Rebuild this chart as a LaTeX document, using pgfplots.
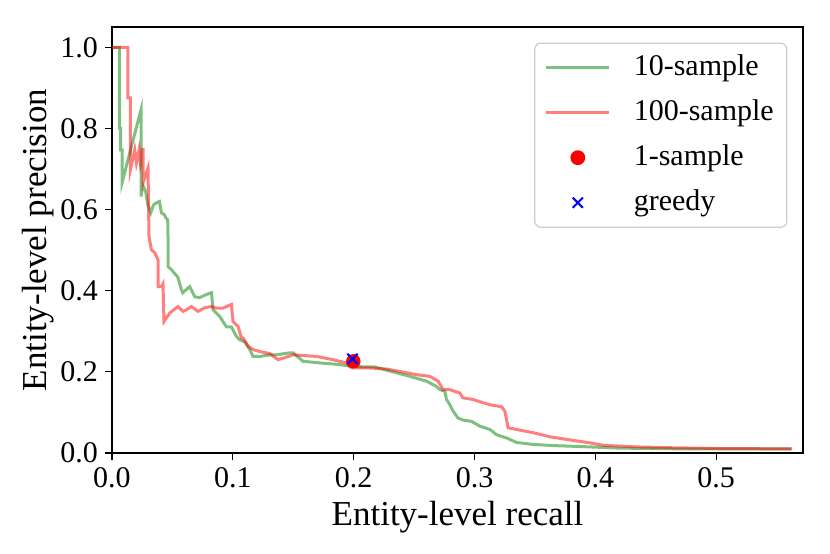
\documentclass[border=0pt]{standalone}
\usepackage{pgfplots}
\pgfplotsset{compat=1.18}
\usepackage{fontspec}
\setmainfont{Liberation Serif}
\definecolor{mplgreen}{rgb}{0,0.5,0}
\definecolor{legedge}{rgb}{0.8,0.8,0.8}
\pgfplotsset{
  lineleg/.style={legend image code/.code={\draw[##1] (0pt,0pt) -- (31.5pt,0pt);}},
  markleg/.style={legend image code/.code={\draw[##1] plot coordinates {(15.75pt,0pt)};}},
}
\begin{document}
\begin{tikzpicture}
\begin{axis}[
  width=345.5pt, height=213pt, scale only axis,
  xmin=0, xmax=0.5718, ymin=0, ymax=1.05,
  xtick={0,0.1,0.2,0.3,0.4,0.5},
  ytick={0,0.2,0.4,0.6,0.8,1.0},
  tick align=outside, major tick length=3.5pt,
  tick style={black, line width=0.6pt},
  axis line style={line width=0.6pt},
  xtick pos=bottom, ytick pos=left,
  /pgf/number format/assume math mode=true,
  /pgf/number format/.cd, fixed, fixed zerofill, precision=1, /pgfplots/.cd,
  tick label style={font=\fontsize{15}{18}\selectfont},
  label style={font=\fontsize{17.5}{21}\selectfont},
  xlabel={Entity-level recall},
  ylabel={Entity-level precision},
  ylabel style={yshift=-3.5pt},
  legend cell align=left,
  legend style={at={(1,1)}, anchor=north east, xshift=-7.8pt, yshift=-7.8pt,
    draw=legedge, line width=0.6pt, rounded corners=3pt,
    font=\fontsize{15}{18}\selectfont,
    inner xsep=5pt, inner ysep=3pt, row sep=4pt, column sep=10pt,
    nodes={inner xsep=1.5pt, inner ysep=2pt, text height=11pt, text depth=3.5pt}},
]
\addplot[mplgreen, opacity=0.5, line width=1.5pt, lineleg]
coordinates {
(0,1.0) (0.0061,1.0) (0.0061,0.801) (0.0072,0.801) (0.0072,0.747) (0.0083,0.747)
(0.0083,0.666) (0.0240,0.846) (0.0240,0.632) (0.0254,0.661) (0.0279,0.644)
(0.0296,0.612) (0.0320,0.592) (0.0345,0.612) (0.0370,0.617) (0.0392,0.620)
(0.0409,0.592) (0.0434,0.587) (0.0445,0.580) (0.0461,0.575) (0.0464,0.526)
(0.0464,0.459) (0.0492,0.452) (0.0519,0.442) (0.0544,0.434) (0.0575,0.402)
(0.0585,0.395) (0.0643,0.410) (0.0685,0.385) (0.0726,0.383) (0.0776,0.390)
(0.0823,0.395) (0.0836,0.353) (0.0892,0.336) (0.0947,0.311) (0.0988,0.311)
(0.1030,0.287) (0.1057,0.279) (0.1099,0.274) (0.1140,0.255) (0.1167,0.238)
(0.1223,0.238) (0.1306,0.242) (0.1361,0.242) (0.1471,0.247) (0.1498,0.247)
(0.1581,0.226) (0.1719,0.222) (0.1885,0.218) (0.1967,0.214) (0.2106,0.212)
(0.2175,0.212) (0.2313,0.201) (0.2464,0.189) (0.2603,0.177) (0.2685,0.164)
(0.2713,0.156) (0.2754,0.152) (0.2768,0.132) (0.2796,0.119) (0.2823,0.103)
(0.2864,0.086) (0.2906,0.081) (0.2975,0.078) (0.3044,0.066) (0.3127,0.058)
(0.3182,0.045) (0.3265,0.037) (0.3348,0.026) (0.3485,0.021) (0.3679,0.018)
(0.3954,0.015) (0.4203,0.012) (0.4757,0.010) (0.5624,0.010)
};
\addlegendentry{10-sample}
\addplot[red, opacity=0.5, line width=1.5pt, lineleg]
coordinates {
(0,1.0) (0.0132,1.0) (0.0132,0.875) (0.0152,0.875) (0.0152,0.853) (0.0152,0.698)
(0.0188,0.747) (0.0202,0.715) (0.0224,0.747) (0.0235,0.715) (0.0257,0.752)
(0.0257,0.666) (0.0298,0.703) (0.0306,0.534) (0.0326,0.501) (0.0353,0.494)
(0.0381,0.476) (0.0381,0.410) (0.0409,0.410) (0.0422,0.417) (0.0430,0.324)
(0.0478,0.345) (0.0546,0.361) (0.0588,0.349) (0.0616,0.353) (0.0657,0.361)
(0.0712,0.349) (0.0767,0.358) (0.0823,0.361) (0.0864,0.357) (0.0919,0.357)
(0.0947,0.361) (0.0988,0.366) (0.1002,0.324) (0.1043,0.312) (0.1071,0.284)
(0.1084,0.284) (0.1126,0.263) (0.1167,0.255) (0.1223,0.250) (0.1306,0.245)
(0.1374,0.230) (0.1430,0.235) (0.1498,0.242) (0.1692,0.238) (0.1829,0.230)
(0.1940,0.222) (0.1982,0.210) (0.2106,0.210) (0.2272,0.207) (0.2382,0.201)
(0.2520,0.193) (0.2630,0.189) (0.2699,0.177) (0.2740,0.156) (0.2796,0.156)
(0.2878,0.148) (0.2903,0.136) (0.2986,0.132) (0.3069,0.124) (0.3127,0.119)
(0.3224,0.114) (0.3251,0.103) (0.3278,0.062) (0.3348,0.058) (0.3485,0.050)
(0.3623,0.040) (0.3816,0.031) (0.3954,0.025) (0.4065,0.019) (0.4203,0.017)
(0.4341,0.015) (0.4617,0.013) (0.5031,0.011) (0.5624,0.010)
};
\addlegendentry{100-sample}
\addplot[only marks, mark=*, mark size=3.4pt, color=red, mark options={draw=red, fill=red}, markleg]
coordinates {(0.1997,0.226)};
\addlegendentry{1-sample}
\addplot[only marks, mark=x, mark size=3.6pt, color=blue, mark options={line width=1pt}, markleg]
coordinates {(0.1990,0.232)};
\addlegendentry{greedy}
\end{axis}
\path ([shift={(-56pt,-50.5pt)}]current axis.south west) rectangle ([shift={(13.5pt,13.5pt)}]current axis.north east);
\end{tikzpicture}
\end{document}
